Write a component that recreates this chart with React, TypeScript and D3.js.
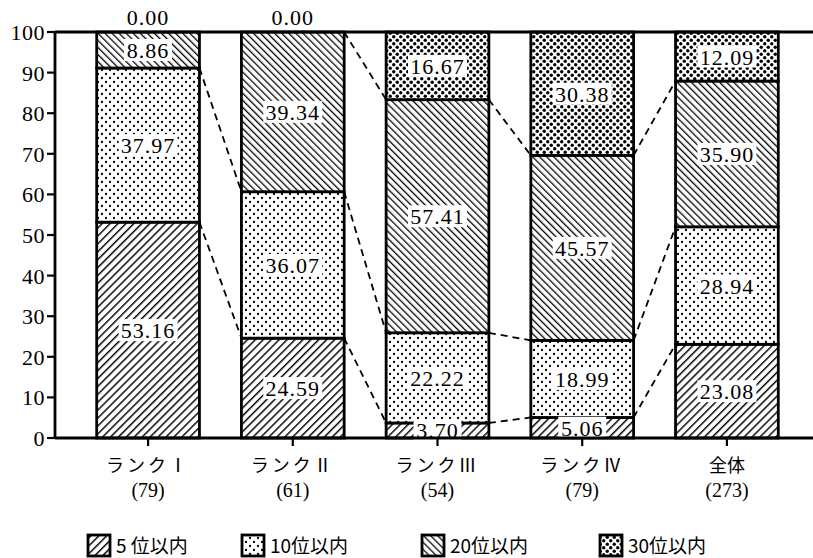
import React from "react";
import * as d3 from "d3";

const categories = ["ランクⅠ", "ランクⅡ", "ランクⅢ", "ランクⅣ", "全体"];
const counts = ["(79)", "(61)", "(54)", "(79)", "(273)"];
const seriesNames = ["5 位以内", "10位以内", "20位以内", "30位以内"];
const top5 = [53.16, 24.59, 3.7, 5.06, 23.08];
const top10 = [37.97, 36.07, 22.22, 18.99, 28.94];
const top20 = [8.86, 39.34, 57.41, 45.57, 35.9];
const top30 = [0.0, 0.0, 16.67, 30.38, 12.09];
const yTicks = [0, 10, 20, 30, 40, 50, 60, 70, 80, 90, 100];

const W = 813;
const H = 558;
const numFont = "'Liberation Serif', 'DejaVu Serif', serif";
const jpFont = "'Noto Sans CJK JP', sans-serif";

export default function App() {
  const series = [top5, top10, top20, top30];
  const rows = categories.map((c, i) => ({
    cat: c,
    s0: top5[i],
    s1: top10[i],
    s2: top20[i],
    s3: top30[i],
  }));
  const stack = d3.stack<any>().keys(["s0", "s1", "s2", "s3"])(rows);

  const x = d3.scaleBand().domain(categories).range([75, 800]).paddingInner(0.29).paddingOuter(0.15);
  const y = d3.scaleLinear().domain([0, 100]).range([438, 32]);
  const axisX = 55;
  const bw = x.bandwidth();
  const patterns = ["p5", "p10", "p20", "p30"];

  const labelBox = (cx: number, cy: number, txt: string, key: string) => {
    const w = txt.length * 11 + 4;
    return (
      <g key={key}>
        <rect x={cx - w / 2} y={cy - 11} width={w} height={22} fill="white" />
        <text x={cx} y={cy + 8} textAnchor="middle" fontFamily={numFont} fontSize={22} letterSpacing={1}>
          {txt}
        </text>
      </g>
    );
  };

  return (
    <svg width={W} height={H} style={{ position: "absolute", left: 0, top: 0, background: "white" }}>
      <defs>
        <pattern id="p5" patternUnits="userSpaceOnUse" width={5.6} height={5.6} patternTransform="rotate(45)">
          <rect width={5.6} height={5.6} fill="white" />
          <line x1={0} y1={0} x2={0} y2={5.6} stroke="black" strokeWidth={2.9} />
        </pattern>
        <pattern id="p20" patternUnits="userSpaceOnUse" width={5} height={5} patternTransform="rotate(-45)">
          <rect width={5} height={5} fill="white" />
          <line x1={0} y1={0} x2={0} y2={5} stroke="black" strokeWidth={2.6} />
        </pattern>
        <pattern id="p10" patternUnits="userSpaceOnUse" width={8} height={8}>
          <rect width={8} height={8} fill="white" />
          <circle cx={2} cy={2} r={1.15} fill="black" />
          <circle cx={6} cy={6} r={1.15} fill="black" />
        </pattern>
        <pattern id="p30" patternUnits="userSpaceOnUse" width={7} height={7}>
          <rect width={7} height={7} fill="white" />
          <circle cx={1.75} cy={1.75} r={1.7} fill="black" />
          <circle cx={5.25} cy={5.25} r={1.7} fill="black" />
        </pattern>
      </defs>

      {/* bars */}
      {stack.map((layer, li) =>
        layer.map((d, i) => {
          const x0 = x(categories[i])!;
          const h = y(d[0]) - y(d[1]);
          if (h <= 0) return null;
          return (
            <rect
              key={`b${li}-${i}`}
              x={x0}
              y={y(d[1])}
              width={bw}
              height={h}
              fill={`url(#${patterns[li]})`}
              stroke="black"
              strokeWidth={2.8}
            />
          );
        })
      )}

      {/* dashed connectors */}
      {[0, 1, 2].map((li) =>
        categories.slice(0, -1).map((c, i) => {
          const a = stack[li][i][1];
          const b = stack[li][i + 1][1];
          return (
            <line
              key={`c${li}-${i}`}
              x1={x(c)! + bw}
              y1={y(a)}
              x2={x(categories[i + 1])!}
              y2={y(b)}
              stroke="black"
              strokeWidth={1.8}
              strokeDasharray="7,5"
            />
          );
        })
      )}

      {/* labels */}
      {stack.map((layer, li) =>
        layer.map((d, i) => {
          const v = series[li][i];
          const cx = x(categories[i])! + bw / 2;
          if (v === 0) {
            return (
              <text key={`l${li}-${i}`} x={cx} y={25} textAnchor="middle" fontFamily={numFont} fontSize={22} letterSpacing={1}>
                {v.toFixed(2)}
              </text>
            );
          }
          const cy = y((d[0] + d[1]) / 2);
          return labelBox(cx, cy, v.toFixed(2), `l${li}-${i}`);
        })
      )}

      {/* axes */}
      <line x1={axisX} y1={y(0)} x2={W} y2={y(0)} stroke="black" strokeWidth={2.8} />
      <line x1={axisX} y1={y(100)} x2={W} y2={y(100)} stroke="black" strokeWidth={2.8} />
      <line x1={axisX} y1={y(0)} x2={axisX} y2={y(100)} stroke="black" strokeWidth={2.8} />
      {yTicks.map((t) => (
        <g key={`t${t}`}>
          <line x1={axisX - 8} x2={axisX} y1={y(t)} y2={y(t)} stroke="black" strokeWidth={2.2} />
          <text x={axisX - 10} y={y(t) + 8} textAnchor="end" fontFamily={numFont} fontSize={22} letterSpacing={0.5}>
            {t}
          </text>
        </g>
      ))}
      {categories.map((c, i) => {
        const cx = x(c)! + bw / 2;
        return (
          <g key={`x${i}`}>
            <line x1={cx} x2={cx} y1={y(0)} y2={y(0) + 8} stroke="black" strokeWidth={2.2} />
            <text x={cx} y={472} textAnchor="middle" fontFamily={jpFont} fontSize={18} letterSpacing={i < 4 ? 3 : 0}>
              {c}
            </text>
            <text x={cx} y={497} textAnchor="middle" fontFamily={numFont} fontSize={20}>
              {counts[i]}
            </text>
          </g>
        );
      })}

      {/* legend */}
      {seriesNames.map((n, i) => {
        const lx = [88, 242, 422, 600][i];
        return (
          <g key={`lg${i}`}>
            <rect x={lx} y={535} width={22} height={21} fill={`url(#${patterns[i]})`} stroke="black" strokeWidth={2.8} />
            <text x={lx + 28} y={553} fontFamily={jpFont} fontSize={19}>
              {n}
            </text>
          </g>
        );
      })}
    </svg>
  );
}
